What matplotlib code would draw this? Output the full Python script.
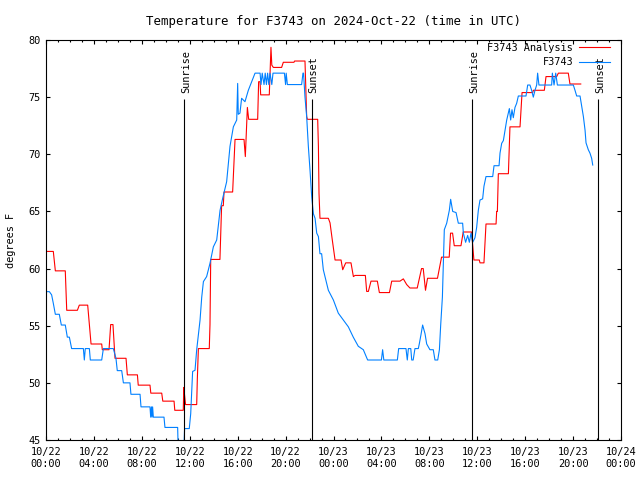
import matplotlib
matplotlib.use('Agg')
import matplotlib.pyplot as plt
from matplotlib.ticker import MultipleLocator

# hours since 2024-10-22 00:00 UTC, temperature in F
red_pts = [(0, 61.5), (0.61, 61.5), (0.78, 59.8), (1.61, 59.8), (1.73, 56.35), (2.62, 56.35),
           (2.78, 56.8), (3.48, 56.8), (3.67, 54.5), (3.76, 53.4), (4.65, 53.4), (4.7, 52.9),
           (5.26, 52.9), (5.4, 55.1), (5.59, 55.1), (5.76, 52.15), (6.68, 52.15), (6.79, 50.7),
           (7.63, 50.7), (7.7, 49.8), (8.68, 49.8), (8.75, 49.1), (9.66, 49.1), (9.75, 48.4),
           (10.69, 48.4), (10.75, 47.6), (11.46, 47.6), (11.5, 49.6), (11.55, 49.1), (11.65, 48.1),
           (12.58, 48.1), (12.63, 50.25), (12.72, 53.0), (13.63, 53.0), (13.69, 55.1), (13.75, 60.8),
           (14.52, 60.8), (14.66, 65.5), (14.8, 65.5), (14.86, 66.7), (15.58, 66.7), (15.78, 71.3),
           (16.53, 71.3), (16.64, 69.8), (16.81, 74.1), (16.92, 73.06), (17.67, 73.06), (17.75, 76.35),
           (17.87, 76.35), (17.92, 75.2), (18.64, 75.2), (18.78, 79.36), (18.85, 77.8), (18.98, 77.6),
           (19.67, 77.6), (19.81, 78.05), (20.7, 78.05), (20.75, 78.16), (21.62, 78.16), (21.76, 73.3),
           (21.82, 73.06), (22.68, 73.06), (22.74, 70.7), (22.79, 66.6), (22.87, 64.4), (23.57, 64.4),
           (23.71, 64.0), (23.9, 62.5), (24.13, 60.75), (24.63, 60.75), (24.77, 59.9), (25.02, 60.5),
           (25.46, 60.5), (25.66, 59.3), (25.8, 59.4), (26.66, 59.4), (26.77, 58.0), (26.91, 58.0),
           (27.13, 58.9), (27.66, 58.9), (27.83, 57.9), (28.67, 57.9), (28.86, 58.9), (29.55, 58.9),
           (29.83, 59.1), (30.11, 58.6), (30.38, 58.3), (30.99, 58.3), (31.35, 60.0), (31.49, 60.0),
           (31.68, 58.1), (31.85, 59.15), (32.68, 59.15), (33.02, 61.0), (33.66, 61.0), (33.77, 63.1),
           (33.94, 63.1), (34.08, 62.0), (34.64, 62.0), (34.83, 63.2), (35.53, 63.2), (35.72, 60.75),
           (36.17, 60.75), (36.23, 60.5), (36.56, 60.5), (36.73, 63.9), (37.57, 63.9), (37.62, 65.0),
           (37.68, 65.0), (37.76, 68.3), (38.6, 68.3), (38.73, 72.4), (39.57, 72.4), (39.74, 75.4),
           (40.63, 75.4), (40.68, 75.6), (41.6, 75.6), (41.74, 76.8), (42.63, 76.8), (42.77, 77.1),
           (43.6, 77.1), (43.74, 76.15), (44.64, 76.15)]

blue_pts = [(0, 57.98), (0.28, 57.98), (0.47, 57.7), (0.61, 56.96), (0.78, 56.0), (1.11, 56.0),
            (1.28, 55.06), (1.61, 55.06), (1.78, 54.0), (1.95, 54.0), (2.14, 53.0), (3.12, 53.0),
            (3.2, 52.0), (3.28, 53.0), (3.62, 53.0), (3.7, 52.0), (4.65, 52.0), (4.79, 53.0),
            (5.62, 53.0), (5.84, 52.15), (5.95, 51.07), (6.32, 51.07), (6.46, 50.0), (7.01, 50.0),
            (7.09, 49.0), (7.85, 49.0), (7.93, 47.9), (8.68, 47.9), (8.74, 47.0), (8.8, 47.9),
            (8.85, 47.0), (8.9, 47.9), (8.96, 47.0), (9.85, 47.0), (9.93, 46.1), (10.99, 46.1),
            (11.04, 44.0), (11.5, 44.0), (11.57, 46.0), (11.96, 46.0), (12.08, 47.3), (12.24, 51.0),
            (12.44, 51.1), (12.58, 52.9), (12.86, 55.5), (13.0, 57.5), (13.14, 58.86), (13.41, 59.3),
            (13.69, 60.46), (13.97, 61.9), (14.25, 62.5), (14.53, 65.1), (14.75, 66.15), (15.08, 67.6),
            (15.36, 70.7), (15.64, 72.4), (15.92, 73.0), (16.0, 76.2), (16.05, 73.5), (16.19, 73.6),
            (16.33, 74.9), (16.61, 74.6), (16.89, 75.6), (17.17, 76.35), (17.45, 77.1), (17.87, 77.1),
            (17.95, 76.1), (18.05, 77.1), (18.2, 76.1), (18.3, 77.1), (18.4, 76.1), (18.5, 77.1),
            (18.6, 76.1), (18.7, 77.1), (18.85, 76.1), (18.95, 77.1), (19.9, 77.1), (20.0, 76.1),
            (20.05, 77.1), (20.15, 76.1), (21.34, 76.1), (21.45, 77.1), (21.5, 77.1), (21.62, 75.0),
            (21.76, 73.3), (21.9, 70.7), (22.04, 68.6), (22.18, 66.3), (22.32, 64.8), (22.46, 64.4),
            (22.6, 63.1), (22.74, 62.8), (22.87, 61.3), (23.01, 61.3), (23.15, 59.9), (23.29, 59.3),
            (23.43, 58.7), (23.57, 58.1), (23.99, 57.25), (24.4, 56.1), (24.82, 55.5), (25.24, 54.9),
            (25.65, 54.0), (26.07, 53.2), (26.49, 52.9), (26.85, 52.0), (28.0, 52.0), (28.1, 52.9),
            (28.2, 52.0), (29.33, 52.0), (29.44, 53.0), (30.05, 53.0), (30.16, 52.0), (30.25, 53.0),
            (30.45, 53.0), (30.53, 52.0), (30.65, 52.0), (30.8, 53.0), (31.08, 53.0), (31.16, 53.4),
            (31.3, 54.2), (31.44, 55.06), (31.64, 54.3), (31.78, 53.4), (32.05, 52.9), (32.33, 52.9),
            (32.47, 52.0), (32.7, 52.0), (32.84, 52.9), (32.95, 55.1), (33.09, 57.5), (33.17, 60.46),
            (33.25, 63.4), (33.45, 63.97), (33.67, 65.1), (33.78, 66.06), (33.95, 65.0), (34.23, 64.9),
            (34.42, 63.97), (34.78, 63.97), (34.84, 63.1), (35.03, 62.3), (35.2, 62.9), (35.34, 62.3),
            (35.48, 63.1), (35.62, 62.3), (35.81, 62.7), (35.95, 63.6), (36.09, 65.1), (36.23, 66.0),
            (36.45, 66.1), (36.56, 67.2), (36.73, 68.05), (37.29, 68.05), (37.4, 69.0), (37.82, 69.0),
            (37.9, 70.1), (38.04, 70.96), (38.18, 71.2), (38.32, 72.1), (38.46, 73.0), (38.68, 74.0),
            (38.79, 73.0), (38.9, 73.9), (39.01, 73.2), (39.15, 74.1), (39.29, 74.46), (39.43, 75.1),
            (40.07, 75.1), (40.21, 76.06), (40.4, 76.06), (40.54, 75.6), (40.68, 75.0), (40.82, 75.6),
            (40.96, 76.06), (41.04, 77.1), (41.15, 76.06), (42.21, 76.06), (42.27, 77.1), (42.41, 76.06),
            (42.55, 77.1), (42.69, 76.06), (44.02, 76.06), (44.16, 75.6), (44.3, 75.1), (44.58, 75.1),
            (44.72, 74.2), (44.86, 73.3), (45.0, 72.1), (45.08, 71.0), (45.27, 70.4), (45.41, 70.1),
            (45.55, 69.65), (45.64, 69.06)]

sun_t = [11.55, 22.18, 35.59, 46.11]
sun_names = ['Sunrise', 'Sunset', 'Sunrise', 'Sunset']

tick_hours = list(range(0, 49, 4))
tick_labels = ['10/%d\n%02d:00' % (22 + h // 24, h % 24) for h in tick_hours]

plt.rcParams['font.family'] = ['DejaVu Sans Mono']
plt.rcParams['font.size'] = 7.4

fig = plt.figure(figsize=(6.4, 4.8), dpi=100)
ax = fig.add_axes([46 / 640, 1 - 440 / 480, 575 / 640, 400 / 480])

rt, rf = zip(*red_pts)
bt, bf = zip(*blue_pts)
ax.plot(rt, rf, color='#ff0000', lw=0.8, label='F3743 Analysis')
ax.plot(bt, bf, color='#0080ff', lw=0.8, label='F3743')

ax.vlines(sun_t, 45, 74.8, colors='black', lw=0.8)
for t, name in zip(sun_t, sun_names):
    ax.text(t + 0.12, 75.4, name, rotation=90, ha='center', va='bottom')

ax.set_xlim(0, 48)
ax.set_ylim(45, 80)
ax.set_xticks(tick_hours)
ax.set_xticklabels(tick_labels)
ax.xaxis.set_minor_locator(MultipleLocator(1))
ax.set_yticks(range(45, 81, 5))
ax.tick_params(which='major', direction='in', top=True, right=True, length=3, width=0.8)
ax.tick_params(axis='x', which='major', pad=5)
ax.tick_params(axis='y', which='major', pad=4)
ax.tick_params(which='minor', direction='in', top=True, right=True, length=1.6, width=0.8)
for s in ax.spines.values():
    s.set_linewidth(0.8)

ax.set_ylabel('degrees F', labelpad=9)
ax.set_title('Temperature for F3743 on 2024-Oct-22 (time in UTC)', pad=11)

ax.legend(loc='upper right', bbox_to_anchor=(610 / 640, 1 - 43 / 480), bbox_transform=fig.transFigure,
          frameon=False, markerfirst=False, borderpad=0, borderaxespad=0,
          handlelength=3.0, handletextpad=0.6, labelspacing=0.4)

fig.savefig('out.png')
